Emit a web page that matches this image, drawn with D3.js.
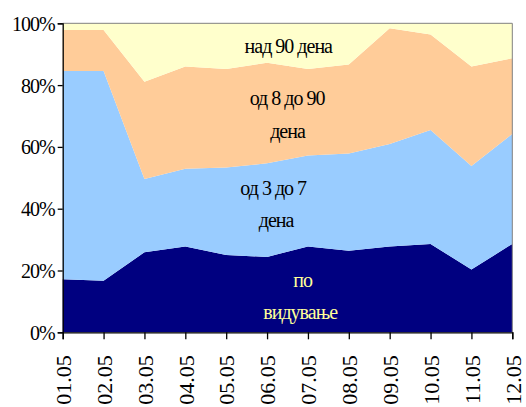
<!DOCTYPE html>
<html>
<head>
<meta charset="utf-8">
<script src="https://cdn.jsdelivr.net/npm/d3@7"></script>
<style>
  body { margin: 0; background: #fff; }
</style>
</head>
<body>
<svg width="526" height="407"></svg>
<script>
const days = ["01.05","02.05","03.05","04.05","05.05","06.05","07.05","08.05","09.05","10.05","11.05","12.05"];
const poVidue = [17.2,16.7,25.9,27.8,25.0,24.4,27.8,26.4,27.8,28.6,20.3,28.6];
const od3do7 = [67.4,67.9,23.7,25.1,28.3,30.3,29.4,31.5,33.1,36.9,33.5,35.6];
const od8do90 = [13.2,13.2,31.5,33.1,31.9,32.5,28.0,28.8,37.5,30.9,32.2,24.5];
const nad90 = [2.2,2.2,18.9,14.0,14.8,12.8,14.8,13.3,1.6,3.6,14.0,11.3];
const seriesKeys = ["po","d3","d8","d90"];
const yTicks = [0, 0.2, 0.4, 0.6, 0.8, 1];
// series labels: text lines, category position (fractional index), value
const labelText = ["над 90 дена", "од 8 до 90", "дена", "од 3 до 7", "дена", "по", "видување"];
const labelAt = [5.52, 5.49, 5.5, 5.15, 5.22, 5.87, 5.81];
const labelVal = [0.904, 0.736, 0.629, 0.443, 0.342, 0.147, 0.043];

(function() {
  const svg = d3.select("svg");
  const font = "'Liberation Serif', 'Times New Roman', serif";
  const plotLeft = 62.7, plotRight = 512.3, plotTop = 23.3, plotBottom = 332.3;
  const colors = { po: "#000080", d3: "#99CCFF", d8: "#FFCC99", d90: "#FFFFCC" };

  const table = days.map((d, i) => ({ day: d, po: poVidue[i], d3: od3do7[i], d8: od8do90[i], d90: nad90[i] }));
  const stacked = d3.stack().keys(seriesKeys).offset(d3.stackOffsetExpand)(table);

  const x = d3.scalePoint().domain(days).range([plotLeft, plotRight]);
  const xi = d3.scaleLinear().domain([0, days.length - 1]).range([plotLeft, plotRight]);
  const y = d3.scaleLinear().domain([0, 1]).range([plotBottom, plotTop]);

  const area = d3.area()
    .x(d => x(d.data.day))
    .y0(d => y(d[0]))
    .y1(d => y(d[1]));

  svg.append("g").selectAll("path")
    .data(stacked)
    .join("path")
    .attr("d", area)
    .attr("fill", d => colors[d.key]);

  // plot frame top & right
  svg.append("path")
    .attr("d", `M${plotLeft},${plotTop}H${plotRight}V${plotBottom}`)
    .attr("fill", "none")
    .attr("stroke", "#808080")
    .attr("stroke-width", 1);

  const yAxis = svg.append("g")
    .attr("transform", `translate(${plotLeft},0)`)
    .attr("font-family", font)
    .call(d3.axisLeft(y).tickValues(yTicks).tickFormat(d3.format(".0%")).tickSize(5).tickPadding(3));
  const xAxis = svg.append("g")
    .attr("transform", `translate(0,${plotBottom})`)
    .attr("font-family", font)
    .call(d3.axisBottom(x).tickSize(7).tickPadding(6));

  [yAxis, xAxis].forEach(g => {
    g.attr("font-family", font);
    g.select(".domain").attr("stroke", "#000").attr("stroke-width", 1.3);
    g.selectAll(".tick line").attr("stroke", "#000").attr("stroke-width", 1.3);
    g.selectAll("text").attr("fill", "#000").attr("font-family", font);
  });
  yAxis.selectAll("text")
    .attr("dy", "0.35em")
    .attr("font-size", 20)
    .attr("letter-spacing", "-1px");
  xAxis.selectAll("text")
    .attr("transform", "rotate(-90)")
    .attr("text-anchor", "end")
    .attr("x", -23)
    .attr("y", 0)
    .attr("dy", "0.35em")
    .attr("font-size", 22);

  svg.append("g").selectAll("text")
    .data(labelText)
    .join("text")
    .attr("x", (d, i) => xi(labelAt[i]))
    .attr("y", (d, i) => y(labelVal[i]))
    .attr("text-anchor", "middle")
    .attr("fill", (d, i) => i >= 5 ? "#FFFF99" : "#000")
    .attr("font-family", font)
    .attr("font-size", 20)
    .attr("letter-spacing", "-1px")
    .text(d => d);
})();
</script>
</body>
</html>
